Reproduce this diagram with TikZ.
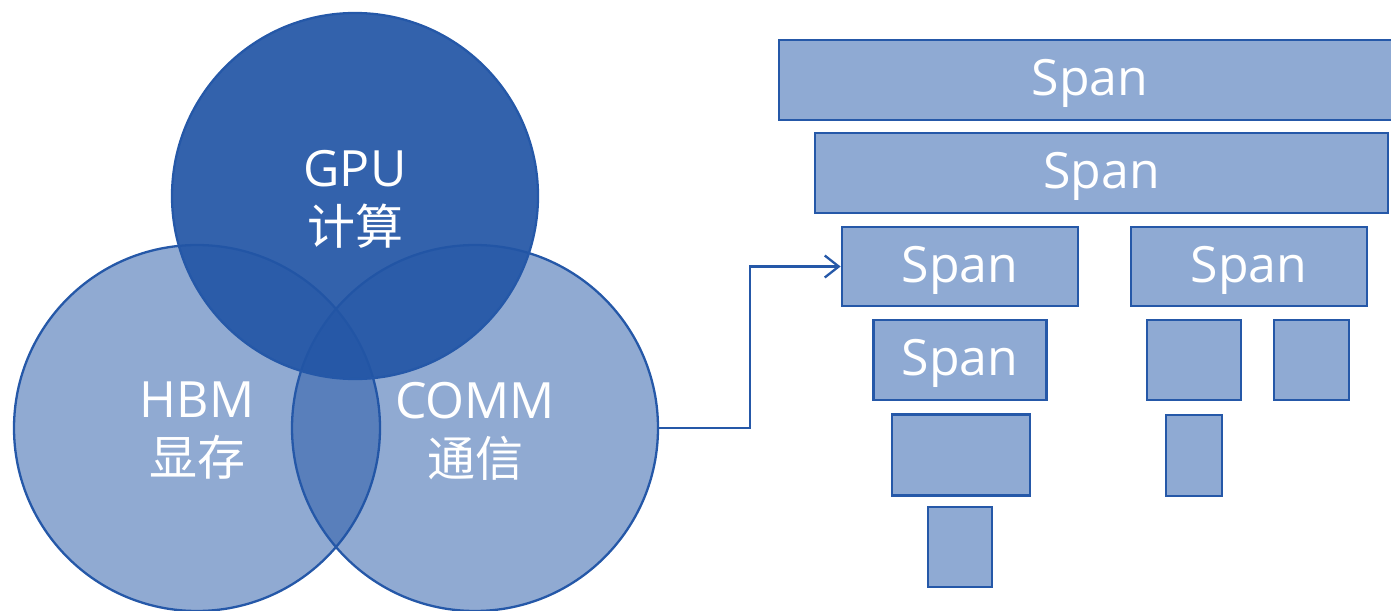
\documentclass[tikz,border=0pt]{standalone}
\usepackage{fontspec}
\setmainfont{Open Sans}
\newfontfamily\cjk{Noto Sans CJK SC}
\usetikzlibrary{arrows.meta}
\definecolor{edgeblue}{RGB}{37,88,168}
\definecolor{baseblue}{RGB}{34,85,165}
\definecolor{spanfill}{RGB}{143,170,211}
\tikzset{
  venn/.style={circle, minimum size=366pt, inner sep=0pt, draw=edgeblue,
    line width=2.3pt, fill=baseblue},
  lightset/.style={venn, fill opacity=0.5},
  darkset/.style={venn, fill opacity=0.92},
  vennlabel/.style={text=white, align=center, inner sep=0pt,
    font=\fontsize{50}{58}\selectfont},
  spanbox/.style={rectangle, inner sep=0pt, draw=edgeblue, line width=2.8pt,
    fill=spanfill, text=white, text height=36pt, text depth=5pt,
    font=\fontsize{50}{58}\selectfont},
  link/.style={draw=edgeblue, line width=2.3pt,
    -{Straight Barb[length=14pt,width=22pt,line width=2.3pt]}}
}
\newcommand{\zh}[1]{{\cjk\fontsize{48}{58}\selectfont #1}}
\begin{document}
\begin{tikzpicture}[x=1pt, y=-1pt]
\useasboundingbox (0,0) rectangle (1391,610);
\begin{scope}
\clip (0,0) rectangle (1391,610);
% three overlapping sets
\node[lightset] (hbm) at (197,428) {};
\node[lightset] (comm) at (475,428) {};
\node[darkset] (gpu) at (355,196) {};
\node[vennlabel] (hbmlbl) at ([yshift=-3pt]hbm.center) {HBM\\\zh{显存}};
\node[vennlabel] (commlbl) at ([yshift=-3pt]comm.center) {COMM\\\zh{通信}};
\node[vennlabel] (gpulbl) at ([yshift=-3pt]gpu.center) {GPU\\\zh{计算}};

% span tree
\node[spanbox, minimum width=622pt, minimum height=80pt] (s1) at (1090,80) {Span};
\node[spanbox, minimum width=573pt, minimum height=80pt] (s2) at (1101.5,173) {Span};
\node[spanbox, minimum width=236pt, minimum height=79pt] (s3) at (960,266.5) {Span};
\node[spanbox, minimum width=236pt, minimum height=79pt] (s4) at (1249,266.5) {Span};
\node[spanbox, minimum width=173pt, minimum height=80pt] (s5) at (960,360) {Span};
\node[spanbox, minimum width=138pt, minimum height=81pt] (s6) at (961,455) {};
\node[spanbox, minimum width=64pt, minimum height=80pt] (s7) at (960,547) {};
\node[spanbox, minimum width=94pt, minimum height=80pt] (s8) at (1194,360) {};
\node[spanbox, minimum width=75pt, minimum height=80pt] (s9) at (1311.5,360) {};
\node[spanbox, minimum width=56pt, minimum height=81pt] (s10) at (1194,455.5) {};

% connector from the communication set to the span tree
\coordinate (bend) at (750,428);
\draw[link] (comm.east) -- (bend) |- (s3.west);
\end{scope}
\end{tikzpicture}
\end{document}
